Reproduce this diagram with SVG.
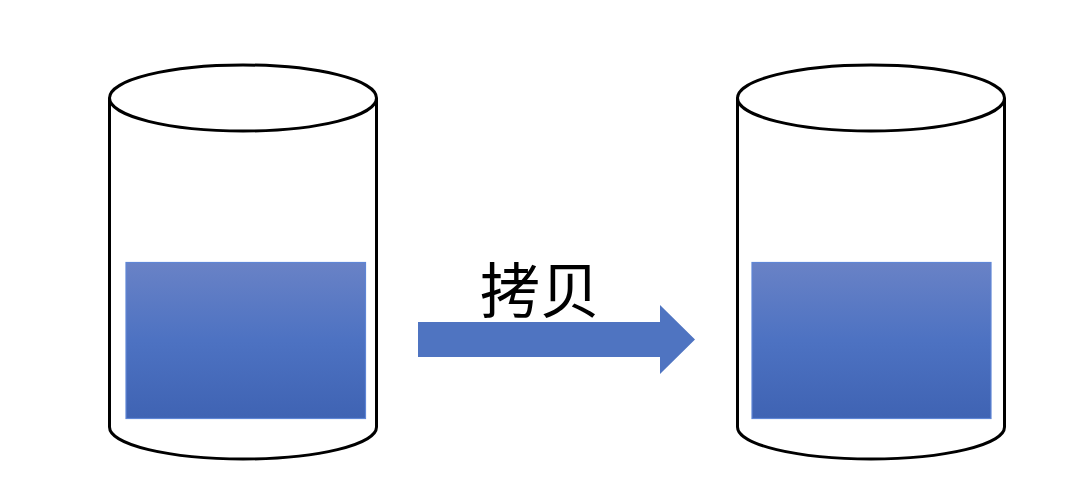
<svg xmlns="http://www.w3.org/2000/svg" width="1080" height="500" viewBox="0 0 1080 500">
<defs>
<style>
.cyl{fill:#ffffff;stroke:#000000;stroke-width:3}
.water{fill:url(#wg);stroke:#5f86d6;stroke-width:1.2}
.lbl{font-family:"Noto Sans CJK SC","Noto Sans CJK JP",sans-serif;font-size:60px;fill:#000000}
</style>
<linearGradient id="wg" x1="0" y1="0" x2="0" y2="1">
<stop offset="0" stop-color="#6982c6"/>
<stop offset="0.5" stop-color="#4d72c2"/>
<stop offset="1" stop-color="#3f63b3"/>
</linearGradient>
</defs>
<rect width="1080" height="500" fill="#ffffff"/>
<g id="source-cylinder">
<path class="cyl" d="M109.5,98 L109.5,427 A133.5,32 0 0 0 376.5,427 L376.5,98"/>
<ellipse class="cyl" cx="243" cy="98" rx="133.5" ry="33"/>
<rect class="water" x="126" y="262.5" width="239.5" height="156"/>
</g>
<g id="target-cylinder">
<path class="cyl" d="M737.5,98 L737.5,427 A133.5,32 0 0 0 1004.5,427 L1004.5,98"/>
<ellipse class="cyl" cx="871" cy="98" rx="133.5" ry="33"/>
<rect class="water" x="752" y="262.5" width="239" height="156"/>
</g>
<g id="connectors">
<polygon points="418,322 660,322 660,305 695,339.5 660,374 660,357 418,357" fill="#4f74c1"/>
<text class="lbl" x="480" y="313">拷贝</text>
</g>
</svg>
